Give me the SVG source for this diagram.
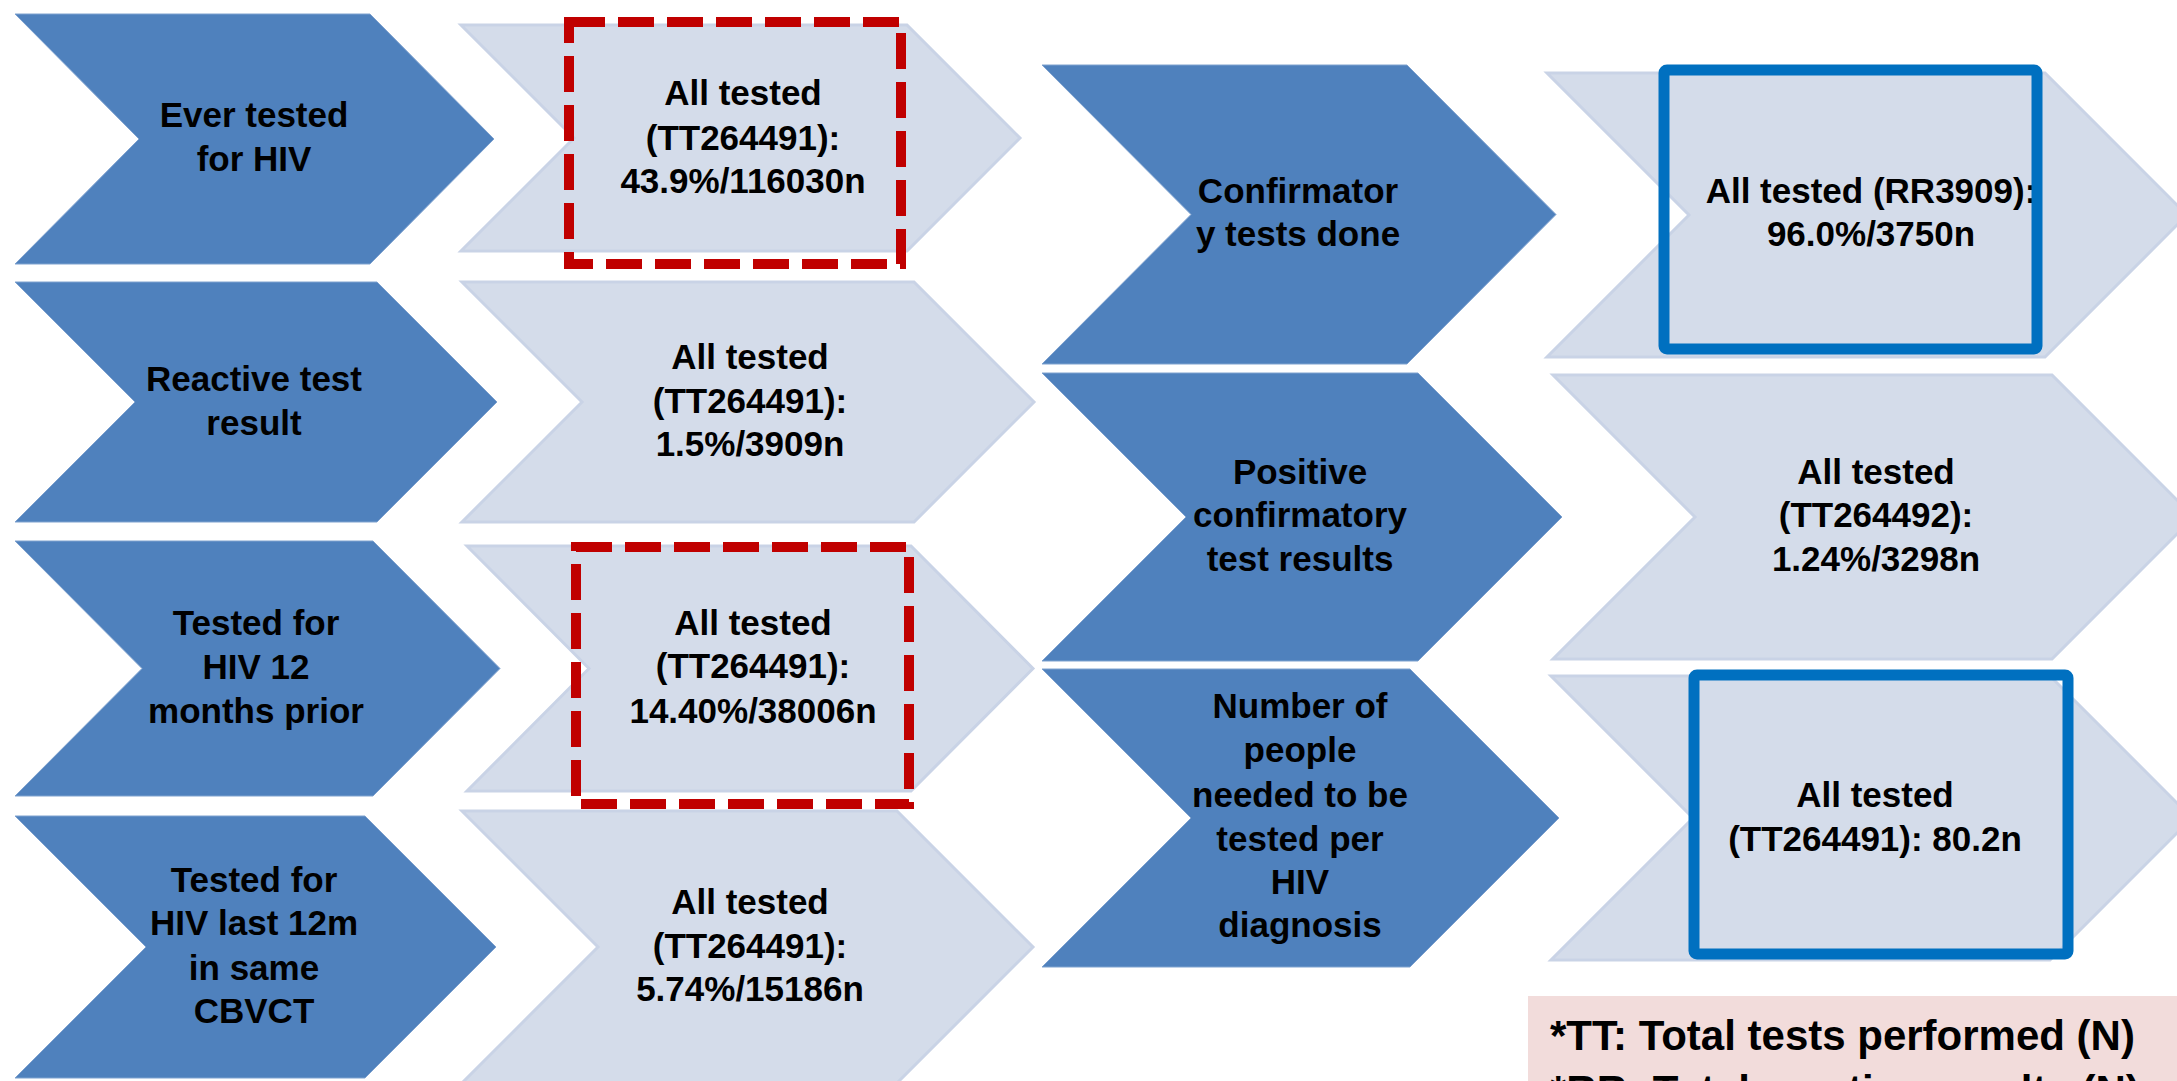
<svg xmlns="http://www.w3.org/2000/svg" width="2177" height="1081" viewBox="0 0 2177 1081">
<style>
.dark{fill:#4F81BD;stroke:#7FA2CF;stroke-width:1}
.light{fill:#D4DCEA;stroke:#C9D3E6;stroke-width:3}
.t{font-family:"Liberation Sans",Arial,sans-serif;font-weight:bold;font-size:35px;fill:#000;text-anchor:middle}
.red{fill:none;stroke:#C00000;stroke-width:10;stroke-dasharray:36 13}
.blue{fill:none;stroke:#0070C0;stroke-width:11}
.leg{font-family:"Liberation Sans",Arial,sans-serif;font-weight:bold;font-size:42px;fill:#000}
</style>
<rect width="2177" height="1081" fill="#FFFFFF"/>
<g id="connectors"/>
<g id="n1">
<polygon class="dark" points="15,14 370,14 494,139 370,264 15,264 139,139"/>
<text class="t" x="254" y="127">Ever tested</text>
<text class="t" x="254" y="171">for HIV</text>
</g>
<g id="v1">
<polygon class="light" points="461,25 907,25 1020,138 907,251 461,251 574,138"/>
<text class="t" x="743" y="105">All tested</text>
<text class="t" x="743" y="150">(TT264491):</text>
<text class="t" x="743" y="193">43.9%/116030n</text>
<rect class="red" x="569" y="22" width="332" height="242"/>
</g>
<g id="n2">
<polygon class="dark" points="15,282 377,282 497,402 377,522 15,522 135,402"/>
<text class="t" x="254" y="391">Reactive test</text>
<text class="t" x="254" y="435">result</text>
</g>
<g id="v2">
<polygon class="light" points="462,282 914,282 1034,402 914,522 462,522 582,402"/>
<text class="t" x="750" y="369">All tested</text>
<text class="t" x="750" y="413">(TT264491):</text>
<text class="t" x="750" y="456">1.5%/3909n</text>
</g>
<g id="n3">
<polygon class="dark" points="15,541 373,541 500,668.5 373,796 15,796 142,668.5"/>
<text class="t" x="256" y="635">Tested for</text>
<text class="t" x="256" y="679">HIV 12</text>
<text class="t" x="256" y="723">months prior</text>
</g>
<g id="v3">
<polygon class="light" points="467,546 911,546 1033,668.5 911,791 467,791 589,668.5"/>
<text class="t" x="753" y="635">All tested</text>
<text class="t" x="753" y="678">(TT264491):</text>
<text class="t" x="753" y="723">14.40%/38006n</text>
<rect class="red" x="576" y="547" width="333" height="257"/>
</g>
<g id="n4">
<polygon class="dark" points="15,816 365,816 496,947 365,1078 15,1078 146,947"/>
<text class="t" x="254" y="892">Tested for</text>
<text class="t" x="254" y="935">HIV last 12m</text>
<text class="t" x="254" y="980">in same</text>
<text class="t" x="254" y="1023">CBVCT</text>
</g>
<g id="v4">
<polygon class="light" points="462,811 897,811 1033,947 897,1083 462,1083 598,947"/>
<text class="t" x="750" y="914">All tested</text>
<text class="t" x="750" y="958">(TT264491):</text>
<text class="t" x="750" y="1001">5.74%/15186n</text>
</g>
<g id="n5">
<polygon class="dark" points="1042,65 1407,65 1556,214.5 1407,364 1042,364 1191,214.5"/>
<text class="t" x="1298" y="203">Confirmator</text>
<text class="t" x="1298" y="246">y tests done</text>
</g>
<g id="v5">
<polygon class="light" points="1547,73 2045,73 2187,215 2045,357 1547,357 1689,215"/>
<text class="t" x="1871" y="203">All tested (RR3909):</text>
<text class="t" x="1871" y="246">96.0%/3750n</text>
<rect class="blue" x="1664" y="70" width="373" height="279" rx="3"/>
</g>
<g id="n6">
<polygon class="dark" points="1042,373 1418,373 1562,517 1418,661 1042,661 1186,517"/>
<text class="t" x="1300" y="484">Positive</text>
<text class="t" x="1300" y="527">confirmatory</text>
<text class="t" x="1300" y="571">test results</text>
</g>
<g id="v6">
<polygon class="light" points="1553,375 2052,375 2194,517 2052,659 1553,659 1695,517"/>
<text class="t" x="1876" y="484">All tested</text>
<text class="t" x="1876" y="527">(TT264492):</text>
<text class="t" x="1876" y="571">1.24%/3298n</text>
</g>
<g id="n7">
<polygon class="dark" points="1042,669 1410,669 1559,818 1410,967 1042,967 1191,818"/>
<text class="t" x="1300" y="718">Number of</text>
<text class="t" x="1300" y="762">people</text>
<text class="t" x="1300" y="807">needed to be</text>
<text class="t" x="1300" y="851">tested per</text>
<text class="t" x="1300" y="894">HIV</text>
<text class="t" x="1300" y="937">diagnosis</text>
</g>
<g id="v7">
<polygon class="light" points="1551,676 2050,676 2192,818 2050,960 1551,960 1693,818"/>
<text class="t" x="1875" y="807">All tested</text>
<text class="t" x="1875" y="851">(TT264491): 80.2n</text>
<rect class="blue" x="1694" y="675" width="374" height="279" rx="3"/>
</g>
<g id="legend">
<rect x="1528" y="996" width="660" height="100" fill="#F2DCDB"/>
<text class="leg" x="1550" y="1050">*TT: Total tests performed (N)</text>
<text class="leg" x="1550" y="1105">*RR: Total reactive results (N)</text>
</g>
</svg>
